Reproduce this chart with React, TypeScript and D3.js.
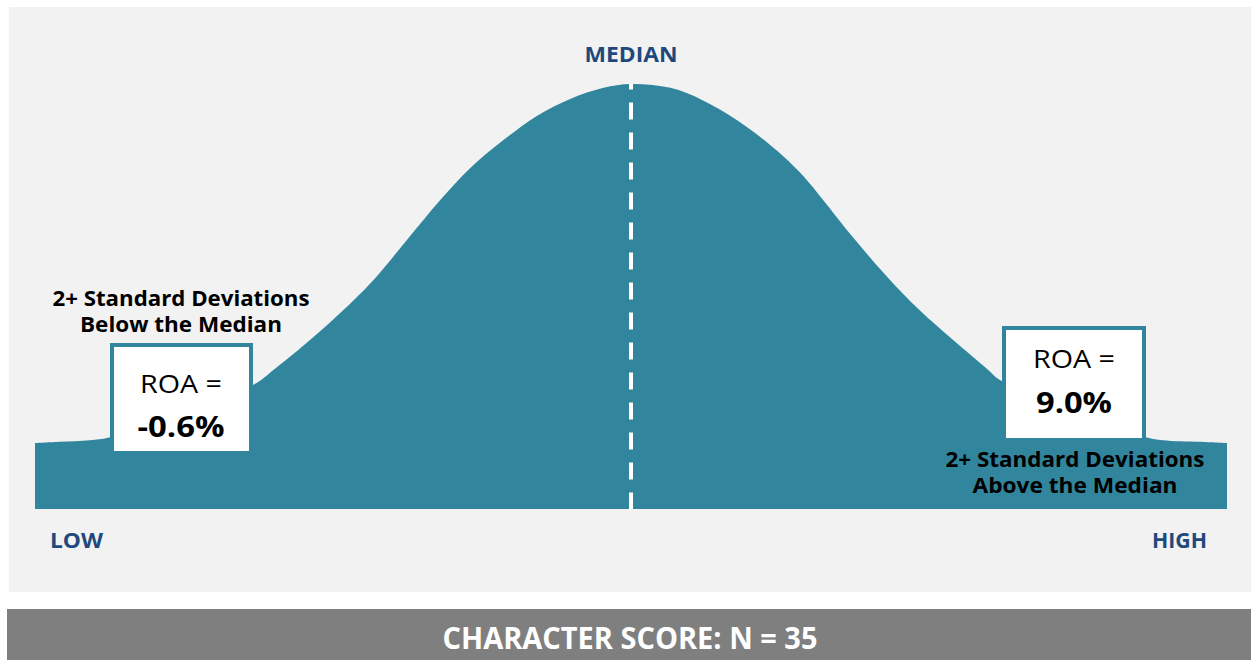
import * as d3 from "d3";
import { useEffect, useRef } from "react";

// Bell curve: position along the score axis (0-100)
// and height as a percentage of the peak.
const positions = [
  0, 2.1, 4.6, 6.3, 18.3, 20.0, 22.8, 25.6, 28.4, 31.2, 34.0, 36.5, 39.3, 42.1,
  44.9, 47.7, 50, 53.3, 56.0, 58.9, 61.7, 64.2, 68.6, 71.5, 74.2, 77.0, 79.9,
  81.1, 93.2, 94.6, 97.7, 100,
];
const density = [
  15.5, 15.8, 16.2, 16.9, 29.2, 32.7, 39.1, 46.1, 53.9, 63.3, 72.7, 80.2, 86.8,
  92.5, 96.5, 99.1, 100, 99.1, 96.2, 91.5, 85.6, 79.1, 64.0, 54.6, 46.8, 39.8,
  32.9, 30.1, 16.9, 16.2, 15.8, 15.5,
];

const medianPosition = 50;
const axisLabels = ["LOW", "HIGH"];
const medianLabel = "MEDIAN";
const roaLabel = "ROA =";
const roaValues = ["-0.6%", "9.0%"];
const tailLabels = [
  ["2+ Standard Deviations", "Below the Median"],
  ["2+ Standard Deviations", "Above the Median"],
];
const footer = "CHARACTER SCORE: N = 35";

const W = 1251;
const H = 660;
const TEAL = "#31859C";
const NAVY = "#1F497D";
const FONT = "'Open Sans', 'Noto Sans', sans-serif";

export default function App() {
  const svgRef = useRef<SVGSVGElement>(null);

  useEffect(() => {
    if (!svgRef.current) return;
    const svg = d3.select(svgRef.current);
    svg.selectAll("*").remove();

    const x = d3.scaleLinear().domain([0, 100]).range([35, 1227]);
    const y = d3.scaleLinear().domain([0, 100]).range([509, 84]);

    // background panel
    svg
      .append("rect")
      .attr("x", 9)
      .attr("y", 7)
      .attr("width", W - 9)
      .attr("height", 585)
      .attr("fill", "#F2F2F2");

    // footer bar
    svg
      .append("rect")
      .attr("x", 7)
      .attr("y", 609)
      .attr("width", W - 7)
      .attr("height", 51)
      .attr("fill", "#7F7F7F");

    svg
      .append("text")
      .attr("x", 630)
      .attr("y", 649)
      .attr("text-anchor", "middle")
      .attr("textLength", 375)
      .attr("lengthAdjust", "spacingAndGlyphs")
      .style("font-family", FONT)
      .style("font-size", "30px")
      .style("font-weight", "bold")
      .style("fill", "#ffffff")
      .text(footer);

    const pts = positions.map((p, i) => ({ p, d: density[i] }));

    const area = d3
      .area<{ p: number; d: number }>()
      .x((d) => x(d.p))
      .y0(y(0))
      .y1((d) => y(d.d))
      .curve(d3.curveCatmullRom.alpha(0.5));

    svg.append("path").datum(pts).attr("d", area).attr("fill", TEAL);

    // median dashed line, drawn upward from the baseline
    svg
      .append("line")
      .attr("x1", x(medianPosition))
      .attr("x2", x(medianPosition))
      .attr("y1", y(0) + 0.5)
      .attr("y2", y(100))
      .attr("stroke", "#ffffff")
      .attr("stroke-width", 4)
      .attr("stroke-dasharray", "17,13");

    svg
      .append("text")
      .attr("x", x(medianPosition))
      .attr("y", 62)
      .attr("text-anchor", "middle")
      .attr("textLength", 93)
      .attr("lengthAdjust", "spacingAndGlyphs")
      .style("font-family", FONT)
      .style("font-size", "21px")
      .style("font-weight", "bold")
      .style("fill", NAVY)
      .text(medianLabel);

    // LOW / HIGH
    const ends = [
      { label: axisLabels[0], x: 50, w: 53, anchor: "start" },
      { label: axisLabels[1], x: 1207, w: 55, anchor: "end" },
    ];
    ends.forEach((e) => {
      svg
        .append("text")
        .attr("x", e.x)
        .attr("y", 548)
        .attr("text-anchor", e.anchor)
        .attr("textLength", e.w)
        .attr("lengthAdjust", "spacingAndGlyphs")
        .style("font-family", FONT)
        .style("font-size", "21px")
        .style("font-weight", "bold")
        .style("fill", NAVY)
        .text(e.label);
    });

    // ROA boxes
    const boxes = [
      { x: 112, y: 345, w: 139, h: 108, cx: 181, roaY: 393, valY: 437, valW: 87 },
      { x: 1004, y: 328, w: 140, h: 112, cx: 1074, roaY: 368, valY: 413, valW: 76 },
    ];
    boxes.forEach((b, i) => {
      svg
        .append("rect")
        .attr("x", b.x)
        .attr("y", b.y)
        .attr("width", b.w)
        .attr("height", b.h)
        .attr("fill", "#ffffff")
        .attr("stroke", TEAL)
        .attr("stroke-width", 4);

      svg
        .append("text")
        .attr("x", b.cx)
        .attr("y", b.roaY)
        .attr("text-anchor", "middle")
        .attr("textLength", 82)
        .attr("lengthAdjust", "spacingAndGlyphs")
        .style("font-family", FONT)
        .style("font-size", "25px")
        .style("fill", "#000000")
        .text(roaLabel);

      svg
        .append("text")
        .attr("x", b.cx)
        .attr("y", b.valY)
        .attr("text-anchor", "middle")
        .attr("textLength", b.valW)
        .attr("lengthAdjust", "spacingAndGlyphs")
        .style("font-family", FONT)
        .style("font-size", "28px")
        .style("font-weight", "bold")
        .style("fill", "#000000")
        .text(roaValues[i]);
    });

    // tail annotations
    const notes = [
      { cx: 181, ys: [306, 332], ws: [257, 202] },
      { cx: 1075, ys: [467, 493], ws: [259, 205] },
    ];
    notes.forEach((n, i) => {
      tailLabels[i].forEach((line, j) => {
        svg
          .append("text")
          .attr("x", n.cx)
          .attr("y", n.ys[j])
          .attr("text-anchor", "middle")
          .attr("textLength", n.ws[j])
          .attr("lengthAdjust", "spacingAndGlyphs")
          .style("font-family", FONT)
          .style("font-size", "21px")
          .style("font-weight", "bold")
          .style("fill", "#000000")
          .text(line);
      });
    });
  }, []);

  return (
    <svg
      ref={svgRef}
      width={W}
      height={H}
      style={{ position: "absolute", left: 0, top: 0, background: "#ffffff" }}
    />
  );
}
